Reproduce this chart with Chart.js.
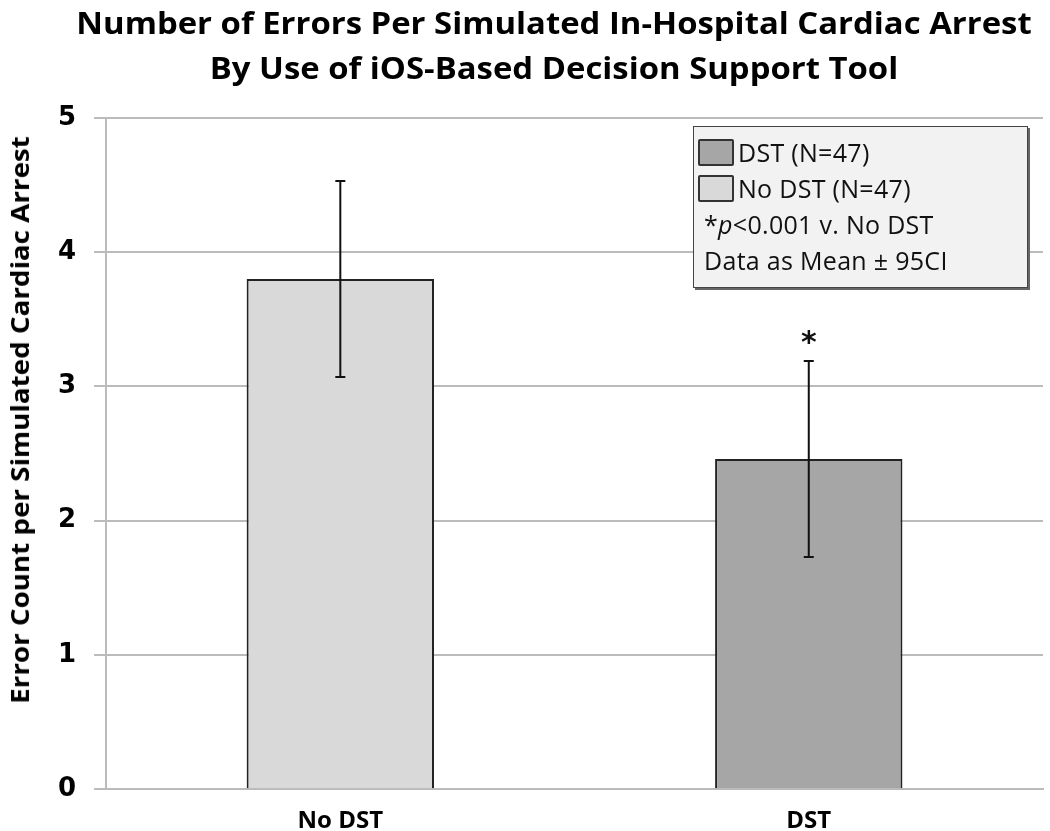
<!DOCTYPE html>
<html>
<head>
<meta charset="utf-8">
<script src="https://cdn.jsdelivr.net/npm/chart.js@4"></script>
<style>
  body { margin: 0; background: #fff; }
  #wrap { position: relative; width: 1050px; height: 831px; overflow: hidden; }
  #title {
    position: absolute; left: 554px; top: 0px; transform: translateX(-50%) scaleX(1.06);
    font-family: "Open Sans", sans-serif; font-weight: bold; font-size: 31px; line-height: 45px;
    text-align: center; white-space: nowrap; color: #000;
  }
  #yTitle {
    position: absolute; left: 19px; top: 420px; transform: translate(-50%, -50%) rotate(-90deg) scaleX(1.11);
    font-family: "Open Sans", sans-serif; font-weight: bold; font-size: 25px;
    white-space: nowrap; color: #000;
  }
  #legendBox {
    position: absolute; left: 693px; top: 126px; width: 335px; height: 162px;
    background: #f2f2f2; border: 1px solid #444; box-shadow: 2px 2px 0 #666;
    font-family: "Open Sans", sans-serif; font-size: 25px; color: #111;
    box-sizing: border-box; padding: 7px 0 0 4px; letter-spacing: 0.3px;
  }
  .row { height: 36px; display: flex; align-items: center; white-space: nowrap; }
  .sw { width: 36px; height: 27px; border: 2px solid #333; border-radius: 2px; margin-right: 4px; box-sizing: border-box; }
  .txt { padding-left: 6px; }
</style>
</head>
<body>
<div id="wrap">
  <canvas id="myChart" width="1050" height="831"></canvas>
  <div id="title">Number of Errors Per Simulated In-Hospital Cardiac Arrest<br>By Use of iOS-Based Decision Support Tool</div>
  <div id="yTitle">Error Count per Simulated Cardiac Arrest</div>
  <div id="legendBox">
    <div class="row"><div class="sw" style="background:#a6a6a6"></div>DST (N=47)</div>
    <div class="row"><div class="sw" style="background:#d9d9d9"></div>No DST (N=47)</div>
    <div class="row txt">*<i>p</i>&lt;0.001 v. No DST</div>
    <div class="row txt">Data as Mean &plusmn; 95CI</div>
  </div>
</div>
<script>
// categories
const categories = ['No DST', 'DST'];
// mean error count
const means = [3.80, 2.46];
// 95% CI half width
const ci = [0.73, 0.73];
// significance marks
const marks = ['', '*'];
// bar colours
const barColors = ['#d9d9d9', '#a6a6a6'];
// y tick labels
const yTicks = [0, 1, 2, 3, 4, 5];

// error bars + asterisk
const errorBars = {
  id: 'errorBars',
  afterDatasetsDraw(chart) {
    const ctx = chart.ctx;
    const y = chart.scales.y;
    const meta = chart.getDatasetMeta(0);
    ctx.save();
    ctx.strokeStyle = '#111';
    ctx.lineWidth = 2;
    meta.data.forEach((bar, i) => {
      const top = y.getPixelForValue(means[i] + ci[i]);
      const bot = y.getPixelForValue(means[i] - ci[i]);
      ctx.beginPath();
      ctx.moveTo(bar.x, top);
      ctx.lineTo(bar.x, bot);
      ctx.moveTo(bar.x - 5, top);
      ctx.lineTo(bar.x + 5, top);
      ctx.moveTo(bar.x - 5, bot);
      ctx.lineTo(bar.x + 5, bot);
      ctx.stroke();
      if (marks[i]) {
        ctx.fillStyle = '#111';
        ctx.font = 'bold 30px "DejaVu Sans"';
        ctx.textAlign = 'center';
        ctx.textBaseline = 'bottom';
        ctx.fillText(marks[i], bar.x, top - 2);
      }
    });
    ctx.restore();
  }
};

const ctx = document.getElementById('myChart').getContext('2d');
const myChart = new Chart(ctx, {
  type: 'bar',
  data: {
    labels: categories,
    datasets: [{
      data: means,
      backgroundColor: barColors,
      borderColor: '#222',
      borderWidth: 2,
      categoryPercentage: 1,
      barPercentage: 0.4
    }]
  },
  options: {
    responsive: false,
    animation: false,
    layout: { padding: { left: 40, right: 7, top: 118, bottom: -15 } },
    plugins: {
      legend: { display: false },
      tooltip: { enabled: false },
      title: { display: false }
    },
    scales: {
      x: {
        grid: { display: false },
        border: { color: '#bbb', width: 2 },
        ticks: { color: '#000', font: { family: 'Open Sans', size: 24, weight: 'bold' }, padding: 10 }
      },
      y: {
        min: 0,
        max: 5,
        afterBuildTicks(scale) { scale.ticks = yTicks.map(v => ({ value: v })); },
        grid: { color: '#bbb', lineWidth: 2, tickLength: 12 },
        border: { color: '#bbb', width: 2 },
        ticks: { color: '#000', font: { family: 'DejaVu Sans', size: 26, weight: 'bold' }, padding: 18 }
      }
    }
  },
  plugins: [errorBars]
});
</script>
</body>
</html>
